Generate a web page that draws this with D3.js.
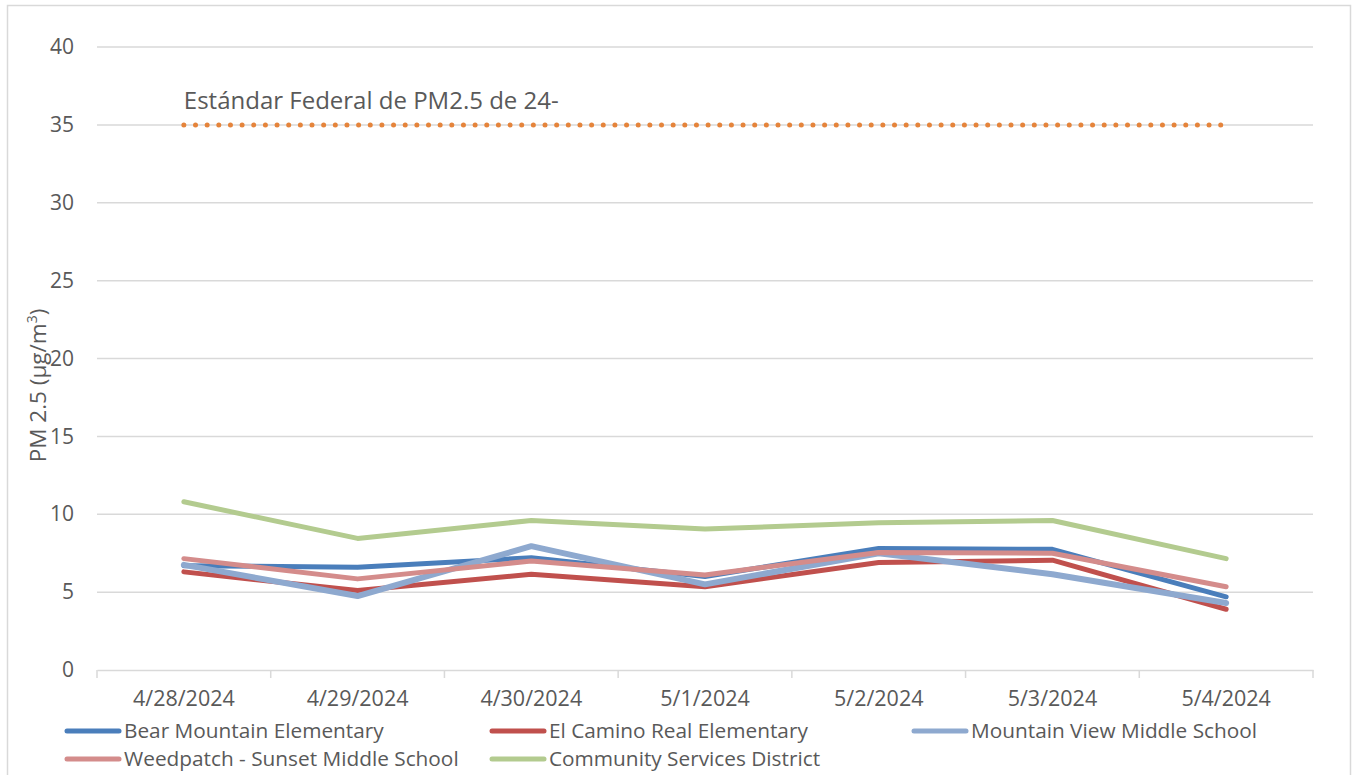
<!DOCTYPE html>
<html>
<head>
<meta charset="utf-8">
<script src="https://cdn.jsdelivr.net/npm/d3@7"></script>
<style>
  body { margin: 0; background: #fff; }
  text { font-family: "Open Sans", sans-serif; fill: #595959; }
</style>
</head>
<body>
<div id="chart"></div>
<script>
const dates = ['4/28/2024', '4/29/2024', '4/30/2024', '5/1/2024', '5/2/2024', '5/3/2024', '5/4/2024'];
const yTicks = [0, 5, 10, 15, 20, 25, 30, 35, 40];

const bearMountain = [6.7, 6.6, 7.2, 6.0, 7.8, 7.75, 4.7];
const elCamino = [6.3, 5.1, 6.15, 5.35, 6.9, 7.05, 3.9];
const mountainView = [6.75, 4.75, 7.95, 5.5, 7.5, 6.15, 4.3];
const weedpatch = [7.15, 5.85, 7.0, 6.1, 7.55, 7.5, 5.35];
const communityServices = [10.8, 8.45, 9.6, 9.05, 9.45, 9.6, 7.15];
const federalStandard = [35, 35, 35, 35, 35, 35, 35];

const seriesNames = ['Bear Mountain Elementary', 'El Camino Real Elementary', 'Mountain View Middle School',
    'Weedpatch - Sunset Middle School', 'Community Services District'];
const seriesValues = [bearMountain, elCamino, mountainView, weedpatch, communityServices];
const seriesColors = ['#4a7ebb', '#c0504d', '#8ea9cf', '#d48c8b', '#b3cb8f'];

const width = 1352;
const height = 775;
const margin = { top: 47, right: 39, bottom: 105, left: 97 };

const svg = d3.select('#chart')
    .append('svg')
    .attr('width', width)
    .attr('height', height);

// chart area border
svg.append('rect')
    .attr('x', 7.5).attr('y', 5.5)
    .attr('width', 1343).attr('height', 780)
    .attr('fill', 'none')
    .attr('stroke', '#d9d9d9')
    .attr('stroke-width', 1.5);

const x = d3.scaleBand()
    .domain(dates)
    .range([margin.left, width - margin.right]);

const y = d3.scaleLinear()
    .domain([0, 40])
    .range([height - margin.bottom, margin.top]);

const xc = d => x(d) + x.bandwidth() / 2;

// gridlines
svg.append('g')
    .selectAll('line')
    .data(yTicks.filter(t => t > 0))
    .enter()
    .append('line')
    .attr('x1', margin.left)
    .attr('x2', width - margin.right)
    .attr('y1', d => y(d))
    .attr('y2', d => y(d))
    .attr('stroke', '#d9d9d9')
    .attr('stroke-width', 1.5);

// y axis labels
const yAxis = svg.append('g')
    .attr('transform', `translate(${margin.left},0)`)
    .call(d3.axisLeft(y).tickValues(yTicks).tickSize(0).tickPadding(23));
yAxis.select('.domain').remove();
yAxis.selectAll('text')
    .style('font-size', '21px')
    .attr('fill', '#595959');

// x axis
const xAxis = svg.append('g')
    .attr('transform', `translate(0,${y(0)})`)
    .call(d3.axisBottom(x).tickSize(0).tickPadding(21));
xAxis.select('.domain')
    .attr('stroke', '#d9d9d9')
    .attr('stroke-width', 1.5);
xAxis.selectAll('text')
    .style('font-size', '21.5px')
    .attr('fill', '#595959');

// category tick marks sit on band edges
svg.append('g')
    .selectAll('line')
    .data(dates.concat(['end']))
    .enter()
    .append('line')
    .attr('x1', (d, i) => margin.left + i * x.bandwidth())
    .attr('x2', (d, i) => margin.left + i * x.bandwidth())
    .attr('y1', y(0))
    .attr('y2', y(0) + 8)
    .attr('stroke', '#d9d9d9')
    .attr('stroke-width', 1.5);

// y axis title
svg.append('text')
    .attr('transform', `translate(46,${(y(40) + y(0)) / 2 + 27}) rotate(-90)`)
    .attr('text-anchor', 'middle')
    .style('font-size', '22.5px')
    .text('PM 2.5 (µg/m')
    .append('tspan')
    .attr('baseline-shift', 'super')
    .style('font-size', '14px')
    .text('3')
    .select(function () { return this.parentNode; })
    .append('tspan')
    .text(')');

const line = d3.line()
    .x((d, i) => xc(dates[i]))
    .y(d => y(d));

// federal standard dotted line
svg.append('path')
    .datum(federalStandard)
    .attr('d', line)
    .attr('fill', 'none')
    .attr('stroke', '#e5843b')
    .attr('stroke-width', 5)
    .attr('stroke-linecap', 'round')
    .attr('stroke-dasharray', '0 11.65');

svg.append('text')
    .attr('x', xc(dates[0]))
    .attr('y', y(35) - 16)
    .style('font-size', '24px')
    .text('Estándar Federal de PM2.5 de 24-');

// series lines
svg.append('g')
    .selectAll('path')
    .data(seriesValues)
    .enter()
    .append('path')
    .attr('d', line)
    .attr('fill', 'none')
    .attr('stroke', (d, i) => seriesColors[i])
    .attr('stroke-width', (d, i) => i === 2 ? 6 : 5)
    .attr('stroke-linecap', 'round')
    .attr('stroke-linejoin', 'round');

// legend
const legendPos = [[65, 731], [490, 731], [912, 731], [65, 759], [490, 759]];
const legend = svg.append('g')
    .selectAll('g')
    .data(seriesNames)
    .enter()
    .append('g')
    .attr('transform', (d, i) => `translate(${legendPos[i][0]},${legendPos[i][1]})`);

legend.append('line')
    .attr('x1', 2).attr('x2', 54)
    .attr('y1', 0).attr('y2', 0)
    .attr('stroke', (d, i) => seriesColors[i])
    .attr('stroke-width', 5)
    .attr('stroke-linecap', 'round');

legend.append('text')
    .attr('x', 59)
    .attr('dy', '0.35em')
    .style('font-size', '20.8px')
    .text(d => d);
</script>
</body>
</html>
